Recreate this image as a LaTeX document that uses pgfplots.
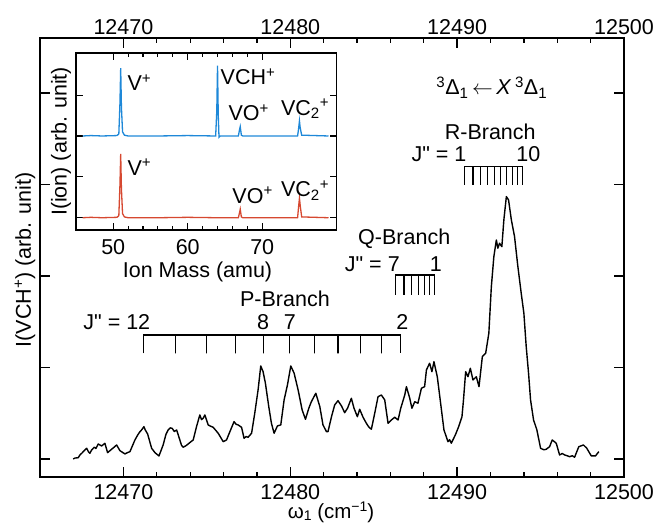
\documentclass[border=0pt]{standalone}
\usepackage{fontspec}
\setmainfont{Liberation Sans}
\newfontfamily\plainfont{Liberation Sans}
\usepackage{pgfplots}
\pgfplotsset{compat=1.18}
\definecolor{ionblue}{RGB}{30,136,216}
\definecolor{ionred}{RGB}{214,72,48}
\newcommand{\dq}{{\plainfont"}}
\begin{document}
\begin{tikzpicture}[font=\fontsize{21.5}{25}\selectfont]
\pgfplotsset{
  common/.style={
    at={(0pt,0pt)}, anchor=south west, scale only axis,
    /pgf/number format/assume math mode=true,
    /pgf/number format/1000 sep={},
    scaled x ticks=false, scaled y ticks=false,
    tick label style={font=\fontsize{21.5}{25}\selectfont},
  }
}
% main axis
\begin{axis}[common,
  width=584pt, height=439pt,
  xmin=12465, xmax=12500, ymin=-0.197, ymax=4.60,
  xtick={12470,12480,12490,12500}, minor x tick num=4,
  ytick={0,1,2,3,4}, yticklabels={},
  tick align=inside,
  major tick length=10pt, minor tick length=5pt,
  axis line style={line width=1.6pt},
  every tick/.style={black, line width=1.3pt},
  xticklabel style={yshift=-4pt},
]
\addplot[black, line width=1.4pt, line join=round] coordinates {
(12466.99,0.000)(12467.10,0.010)(12467.29,0.014)(12467.40,0.045)(12467.50,0.062)(12467.65,0.090)(12467.80,0.117)(12467.90,0.080)(12467.99,0.062)
(12468.10,0.100)(12468.25,0.128)(12468.35,0.115)(12468.49,0.164)(12468.69,0.142)(12468.89,0.171)(12468.97,0.120)(12469.05,0.069)
(12469.29,0.106)(12469.45,0.130)(12469.59,0.153)(12469.79,0.091)(12470.09,0.055)(12470.25,0.070)(12470.39,0.080)
(12470.69,0.208)(12470.85,0.260)(12470.99,0.298)(12471.10,0.320)(12471.23,0.353)(12471.30,0.320)(12471.45,0.273)(12471.69,0.117)
(12471.89,0.069)(12472.13,0.033)(12472.38,0.153)(12472.55,0.270)(12472.68,0.317)(12472.80,0.340)(12472.92,0.335)
(12473.05,0.300)(12473.19,0.317)(12473.38,0.208)(12473.48,0.150)(12473.58,0.128)(12473.75,0.145)(12473.88,0.164)(12474.18,0.208)
(12474.38,0.353)(12474.50,0.430)(12474.58,0.481)(12474.68,0.430)(12474.78,0.445)(12474.88,0.481)(12475.08,0.372)
(12475.20,0.360)(12475.38,0.346)(12475.50,0.320)(12475.68,0.281)(12475.98,0.189)(12476.18,0.208)(12476.38,0.298)
(12476.63,0.408)(12476.75,0.380)(12476.87,0.372)(12477.08,0.346)(12477.23,0.226)(12477.35,0.245)(12477.47,0.237)
(12477.68,0.281)(12477.87,0.499)(12478.07,0.754)(12478.23,1.016)(12478.37,0.954)
(12478.51,0.827)(12478.71,0.572)(12478.87,0.390)(12479.03,0.281)(12479.23,0.361)
(12479.43,0.372)(12479.63,0.645)(12479.83,0.809)(12480.03,1.016)(12480.23,0.937)
(12480.47,0.754)(12480.71,0.536)(12480.91,0.434)(12481.11,0.554)(12481.25,0.620)(12481.37,0.663)
(12481.53,0.718)(12481.77,0.572)(12481.96,0.372)(12482.17,0.298)(12482.26,0.298)
(12482.47,0.462)(12482.66,0.590)(12482.86,0.637)(12483.07,0.579)(12483.26,0.506)
(12483.43,0.554)(12483.66,0.663)(12483.82,0.554)(12484.02,0.462)(12484.16,0.543)
(12484.36,0.456)(12484.56,0.390)(12484.70,0.350)(12484.86,0.325)(12485.06,0.499)(12485.26,0.681)
(12485.46,0.699)(12485.66,0.645)(12485.86,0.390)(12486.06,0.426)(12486.26,0.456)
(12486.46,0.426)(12486.62,0.554)(12486.86,0.699)(12486.96,0.790)(12487.16,0.663)
(12487.29,0.554)(12487.46,0.626)(12487.65,0.609)(12487.86,0.773)(12488.05,0.790)
(12488.16,0.973)(12488.35,1.046)(12488.49,0.954)(12488.61,1.063)(12488.81,0.899)
(12489.01,0.609)(12489.21,0.317)(12489.45,0.189)(12489.55,0.210)(12489.65,0.172)(12489.89,0.262)
(12490.09,0.353)(12490.29,0.462)(12490.38,0.645)(12490.51,0.954)(12490.65,0.899)
(12490.79,0.991)(12490.95,0.863)(12491.15,0.899)(12491.31,0.790)(12491.51,1.118)
(12491.71,1.155)(12491.90,1.374)(12492.05,1.883)(12492.20,2.211)(12492.35,2.393)
(12492.44,2.303)(12492.54,2.357)(12492.68,2.320)(12492.80,2.612)(12492.95,2.867)
(12493.08,2.831)(12493.25,2.612)(12493.44,2.430)(12493.64,2.102)(12493.84,1.811)
(12494.00,1.592)(12494.14,1.227)(12494.28,0.937)(12494.40,0.645)(12494.58,0.426)
(12494.78,0.317)(12495.00,0.117)(12495.20,0.100)(12495.34,0.106)(12495.54,0.134)(12495.70,0.208)
(12495.94,0.172)(12496.14,0.044)(12496.30,0.060)(12496.44,0.044)(12496.60,0.035)(12496.74,0.025)(12496.90,0.035)(12497.04,0.019)
(12497.29,0.134)(12497.57,0.153)(12497.77,0.117)(12498.04,0.033)(12498.29,0.033)
(12498.49,0.080)
};
% P-branch comb (J''=12 ... 2)
\addplot[black, line width=1.2pt] coordinates {
(12471.19,1.155)(12471.19,1.355)(12473.13,1.355)(12473.13,1.155)(12473.13,1.355)
(12474.98,1.355)(12474.98,1.155)(12474.98,1.355)(12476.74,1.355)(12476.74,1.155)
(12476.74,1.355)(12478.41,1.355)(12478.41,1.155)(12478.41,1.355)(12479.97,1.355)
(12479.97,1.155)(12479.97,1.355)(12481.47,1.355)(12481.47,1.155)(12481.47,1.355)
(12482.86,1.355)(12482.86,1.155)(12482.86,1.355)(12484.20,1.355)(12484.20,1.155)
(12484.20,1.355)(12485.46,1.355)(12485.46,1.155)(12485.46,1.355)(12486.62,1.355)
(12486.62,1.155)
};
% Q-branch comb (J''=7 ... 1)
\addplot[black, line width=1.2pt] coordinates {
(12486.32,1.792)(12486.32,2.011)(12486.82,2.011)(12486.82,1.792)(12486.82,2.011)
(12487.28,2.011)(12487.28,1.792)(12487.28,2.011)(12487.68,2.011)(12487.68,1.792)
(12487.68,2.011)(12488.04,2.011)(12488.04,1.792)(12488.04,2.011)(12488.34,2.011)
(12488.34,1.792)(12488.34,2.011)(12488.62,2.011)(12488.62,1.792)
};
% R-branch comb (J''=1 ... 10)
\addplot[black, line width=1.2pt] coordinates {
(12490.45,2.995)(12490.45,3.195)(12490.95,3.195)(12490.95,2.995)(12490.95,3.195)
(12491.41,3.195)(12491.41,2.995)(12491.41,3.195)(12491.84,3.195)(12491.84,2.995)
(12491.84,3.195)(12492.25,3.195)(12492.25,2.995)(12492.25,3.195)(12492.60,3.195)
(12492.60,2.995)(12492.60,3.195)(12492.95,3.195)(12492.95,2.995)(12492.95,3.195)
(12493.31,3.195)(12493.31,2.995)(12493.31,3.195)(12493.60,3.195)(12493.60,2.995)
(12493.60,3.195)(12493.90,3.195)(12493.90,2.995)
};
\node[anchor=base west, inner sep=0] at (axis cs:12488.75,3.978)
  {\textsuperscript{3}Δ\textsubscript{1}\,$\leftarrow$\,\textit{X}\,\textsuperscript{3}Δ\textsubscript{1}};
\node[anchor=base west, inner sep=0] at (axis cs:12489.25,3.494) {R-Branch};
\node[anchor=base west, inner sep=0] at (axis cs:12487.26,3.249) {J\dq\ = 1};
\node[anchor=base west, inner sep=0] at (axis cs:12493.54,3.249) {10};
\node[anchor=base west, inner sep=0] at (axis cs:12484.06,2.339) {Q-Branch};
\node[anchor=base west, inner sep=0] at (axis cs:12483.26,2.047) {J\dq\ = 7};
\node[anchor=base west, inner sep=0] at (axis cs:12488.35,2.047) {1};
\node[anchor=base west, inner sep=0] at (axis cs:12476.98,1.665) {P-Branch};
\node[anchor=base west, inner sep=0] at (axis cs:12467.59,1.410) {J\dq\ = 12};
\node[anchor=base, inner sep=0] at (axis cs:12478.37,1.410) {8};
\node[anchor=base, inner sep=0] at (axis cs:12479.97,1.410) {7};
\node[anchor=base, inner sep=0] at (axis cs:12486.71,1.410) {2};
\end{axis}
% top tick labels
\begin{axis}[common,
  width=584pt, height=439pt,
  xmin=12465, xmax=12500, ymin=-0.197, ymax=4.60,
  xtick={12470,12480,12490,12500},
  hide y axis,
  x axis line style={draw=none},
  xtick style={draw=none},
  xticklabel pos=upper,
]
\end{axis}
% inset
\begin{axis}[common,
  at={(36pt,247pt)},
  width=260.7pt, height=177pt,
  xmin=45, xmax=80, ymin=-0.3, ymax=4.03,
  xtick={50,60,70}, minor x tick num=4,
  ytick={0,1,2,3}, yticklabels={},
  tick align=inside,
  major tick length=7pt, minor tick length=4pt,
  axis line style={line width=1.5pt},
  every tick/.style={black, line width=1.1pt},
  xticklabel style={yshift=-6pt},
]
\addplot[ionblue, line width=1.3pt] coordinates {
(45.9,2.00)(47.0,2.01)(48.5,2.00)(50.5,2.01)(50.75,2.05)(50.9,2.80)(51.0,3.66)
(51.1,2.70)(51.25,2.10)(51.5,2.02)(52.0,2.00)(56.0,2.00)(60.0,2.01)(63.75,2.00)
(63.9,2.60)(64.0,3.72)(64.1,2.50)(64.2,1.97)(64.35,2.00)(66.8,2.00)(66.95,2.15)
(67.05,2.23)(67.2,2.02)(67.4,2.00)(74.75,2.00)(74.9,2.20)(75.0,2.37)(75.1,2.20)
(75.3,2.02)(78.9,2.00)
};
\addplot[ionred, line width=1.3pt] coordinates {
(45.9,0.00)(47.0,0.01)(48.5,0.00)(50.5,0.01)(50.75,0.05)(50.9,0.80)(51.0,1.56)
(51.1,0.70)(51.25,0.10)(51.5,0.02)(52.0,0.00)(56.0,0.00)(60.0,0.01)(64.0,0.00)
(66.8,0.00)(66.95,0.12)(67.05,0.21)(67.2,0.02)(67.4,0.00)(74.75,0.00)(74.9,0.30)
(75.0,0.48)(75.1,0.30)(75.3,0.02)(78.9,0.00)
};
\node[anchor=base west, inner sep=0] at (axis cs:51.9,3.11) {V\textsuperscript{+}};
\node[anchor=base west, inner sep=0] at (axis cs:64.4,3.25) {VCH\textsuperscript{+}};
\node[anchor=base west, inner sep=0] at (axis cs:65.45,2.37) {VO\textsuperscript{+}};
\node[anchor=base west, inner sep=0] at (axis cs:72.5,2.51) {VC\textsubscript{2}\textsuperscript{+}};
\node[anchor=base west, inner sep=0] at (axis cs:51.9,1.04) {V\textsuperscript{+}};
\node[anchor=base west, inner sep=0] at (axis cs:65.98,0.35) {VO\textsuperscript{+}};
\node[anchor=base west, inner sep=0] at (axis cs:72.5,0.51) {VC\textsubscript{2}\textsuperscript{+}};
\end{axis}
% axis labels
\node[rotate=90, inner sep=0] at (-15pt,217pt) {I(VCH\textsuperscript{+}) (arb. unit)};
\node[anchor=base, inner sep=0, font=\fontsize{20.5}{24}\selectfont] at (291pt,-42pt)
  {ω\raisebox{-2pt}{\fontsize{14}{14}\selectfont 1} (cm\raisebox{7pt}{\fontsize{14}{14}\selectfont −1})};
\node[anchor=base, inner sep=0] at (157.5pt,199pt) {Ion Mass (amu)};
\node[rotate=90, inner sep=0] at (21pt,335.5pt) {I(ion) (arb. unit)};
\pgfresetboundingbox
\path[use as bounding box] (-40pt,-48pt) rectangle (617pt,477pt);
\end{tikzpicture}
\end{document}
